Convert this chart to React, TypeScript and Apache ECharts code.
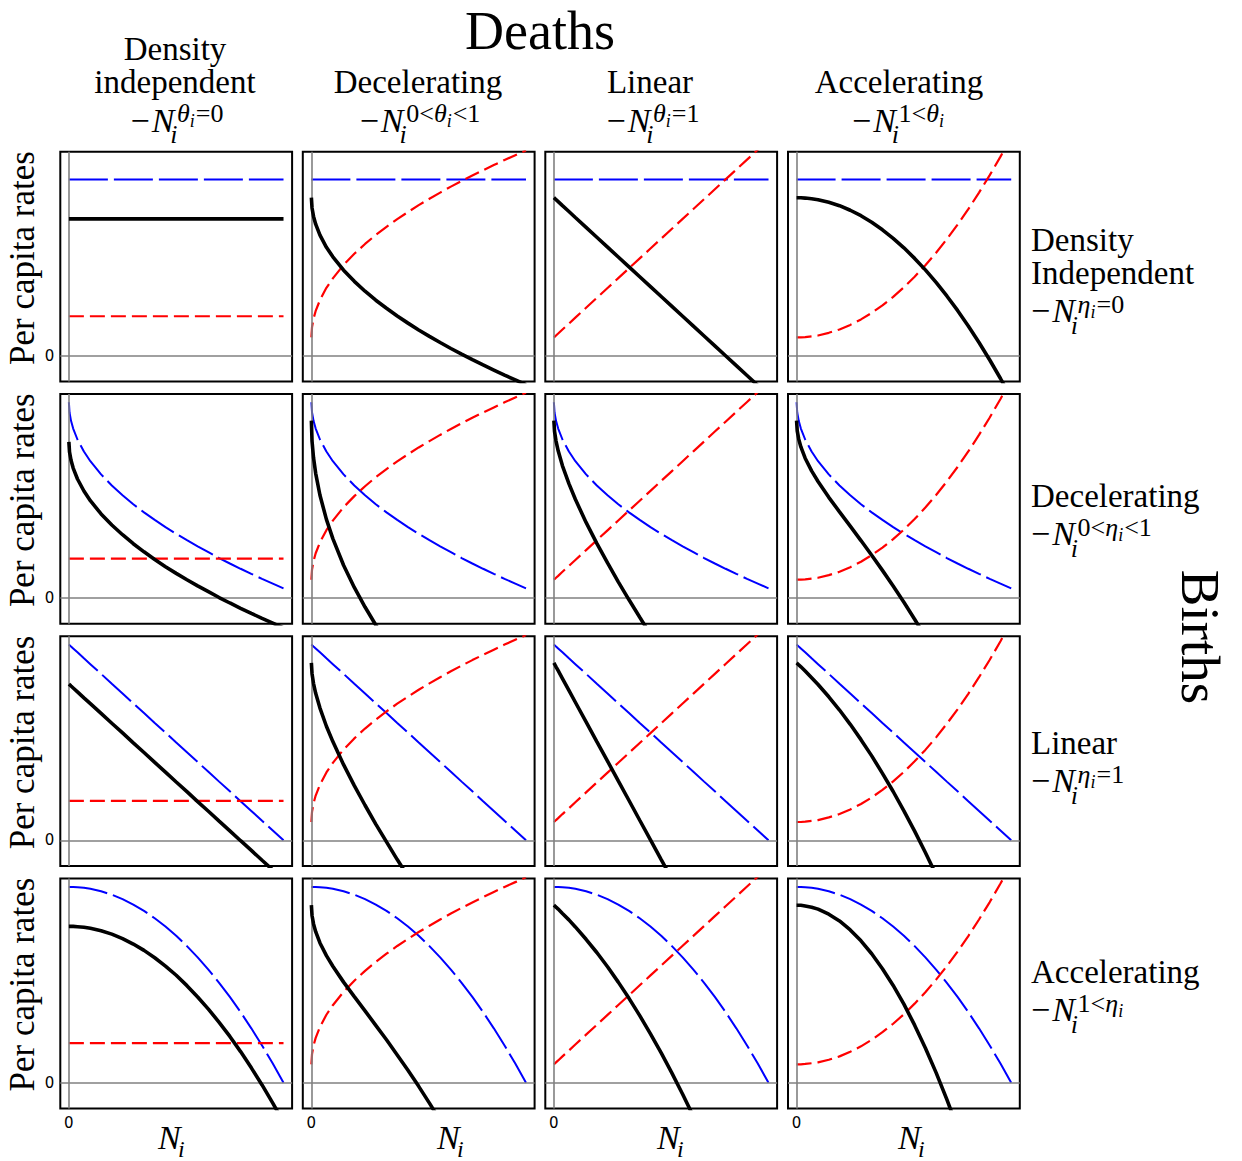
import React, { useEffect, useRef } from "react";
import * as echarts from "echarts";

// ---------- data ----------
const N_VALUES = [0, 0.003, 0.01, 0.02, 0.04, 0.07, 0.1, 0.15, 0.2, 0.25, 0.3, 0.35, 0.4, 0.45, 0.5, 0.55, 0.6, 0.65, 0.7, 0.75, 0.8, 0.85, 0.9, 0.95, 1.0];

// per-capita birth rates (blue), one array per row
const BIRTH_DENSITY_INDEPENDENT = [1, 1, 1, 1, 1, 1, 1, 1, 1, 1, 1, 1, 1, 1, 1, 1, 1, 1, 1, 1, 1, 1, 1, 1, 1];
const BIRTH_DECELERATING = [1.11, 1.052, 1.005, 0.961, 0.899, 0.831, 0.776, 0.701, 0.638, 0.583, 0.532, 0.486, 0.443, 0.402, 0.364, 0.328, 0.293, 0.26, 0.227, 0.196, 0.166, 0.137, 0.109, 0.082, 0.055];
const BIRTH_LINEAR = [1.11, 1.107, 1.099, 1.088, 1.066, 1.032, 0.999, 0.944, 0.888, 0.833, 0.777, 0.722, 0.666, 0.611, 0.555, 0.5, 0.444, 0.389, 0.333, 0.278, 0.222, 0.167, 0.111, 0.056, 0];
const BIRTH_ACCELERATING = [1.11, 1.11, 1.11, 1.11, 1.108, 1.105, 1.099, 1.085, 1.066, 1.041, 1.01, 0.974, 0.932, 0.885, 0.833, 0.774, 0.71, 0.641, 0.566, 0.486, 0.4, 0.308, 0.211, 0.108, 0];

// per-capita death rates (red), one array per column
const DEATH_DENSITY_INDEPENDENT = [0.224, 0.224, 0.224, 0.224, 0.224, 0.224, 0.224, 0.224, 0.224, 0.224, 0.224, 0.224, 0.224, 0.224, 0.224, 0.224, 0.224, 0.224, 0.224, 0.224, 0.224, 0.224, 0.224, 0.224, 0.224];
const DEATH_DECELERATING = [0.104, 0.162, 0.21, 0.254, 0.316, 0.385, 0.439, 0.515, 0.578, 0.634, 0.685, 0.731, 0.775, 0.815, 0.854, 0.89, 0.925, 0.959, 0.991, 1.022, 1.052, 1.081, 1.11, 1.137, 1.164];
const DEATH_LINEAR = [0.104, 0.107, 0.115, 0.126, 0.149, 0.182, 0.216, 0.272, 0.328, 0.384, 0.44, 0.496, 0.552, 0.608, 0.664, 0.72, 0.776, 0.832, 0.888, 0.944, 1.0, 1.056, 1.112, 1.168, 1.224];
const DEATH_ACCELERATING = [0.104, 0.104, 0.104, 0.104, 0.106, 0.11, 0.115, 0.13, 0.149, 0.175, 0.206, 0.243, 0.286, 0.334, 0.388, 0.448, 0.513, 0.584, 0.661, 0.743, 0.831, 0.925, 1.024, 1.129, 1.24];

const BIRTH_ROWS = [BIRTH_DENSITY_INDEPENDENT, BIRTH_DECELERATING, BIRTH_LINEAR, BIRTH_ACCELERATING];
const DEATH_COLS = [DEATH_DENSITY_INDEPENDENT, DEATH_DECELERATING, DEATH_LINEAR, DEATH_ACCELERATING];

const COLUMN_LABELS = [["Density", "independent"], ["Decelerating"], ["Linear"], ["Accelerating"]];
const ROW_LABELS = [["Density", "Independent"], ["Decelerating"], ["Linear"], ["Accelerating"]];
// exponent forms: [before symbol, after symbol]
const EXPONENT_FORMS = [["", "=0"], ["0<", "<1"], ["", "=1"], ["1<", ""]];
const TICK_LABEL = "0";
const X_LIMITS = [-0.04, 1.04];
const Y_LIMITS = [-0.146, 1.157];

// ---------- layout ----------
const COL_LEFT = [60.3, 302.8, 545.3, 788];
const ROW_TOP = [151.7, 394, 636.3, 878.6];
const GRID_W = 231.8;
const GRID_H = 229.8;
const SERIF = "'Liberation Serif', 'Times New Roman', serif";
const SANS = "'DejaVu Sans', sans-serif";
const CENTRAL = 0.3375; // middle-of-em offset above baseline for Liberation Serif

const HEADER_CX = [175, 418, 650, 899];
const MATH_CX = [177, 420, 653, 898];
const NI_LEFT = [158, 437, 657, 898];
const ROW_TEXT_BASE = [[251, 284], [507], [754], [983]];

type Piece = { t: string; s: number; it?: boolean; dy: number; dx?: number; noAdv?: boolean };

let measureCtx: CanvasRenderingContext2D | null = null;
function measure(t: string, s: number, it?: boolean) {
  if (!measureCtx) measureCtx = document.createElement("canvas").getContext("2d");
  measureCtx!.font = `${it ? "italic " : ""}${s}px ${SERIF}`;
  return measureCtx!.measureText(t).width;
}

function layout(pieces: Piece[], anchorX: number, baseY: number, align: "left" | "center") {
  let cur = 0;
  const placed: { p: Piece; x: number }[] = [];
  for (const p of pieces) {
    const x = cur + (p.dx || 0);
    placed.push({ p, x });
    if (!p.noAdv) cur = x + measure(p.t, p.s, p.it);
  }
  const start = align === "center" ? anchorX - cur / 2 : anchorX;
  return placed.map(({ p, x }) => ({
    type: "text",
    silent: true,
    x: start + x,
    y: baseY + p.dy - CENTRAL * p.s,
    style: {
      text: p.t,
      fontFamily: SERIF,
      fontSize: p.s,
      fontStyle: p.it ? "italic" : "normal",
      fill: "#000",
      align: "left",
      verticalAlign: "middle",
    },
  }));
}

function mathPieces(sym: string, pre: string, post: string, F: number): Piece[] {
  const S = Math.round(F * 0.76);
  const SS = Math.round(F * 0.54);
  const up = -0.28 * F;
  const ps: Piece[] = [
    { t: "\u2212", s: F, dy: 0 },
    { t: "N", s: F, it: true, dy: 0, dx: 2 },
    { t: "i", s: S, it: true, dy: 0.34 * F, dx: -0.12 * F, noAdv: true },
  ];
  let first = true;
  const supDx = 0.08 * F;
  if (pre) {
    ps.push({ t: pre, s: S, dy: up, dx: supDx });
    first = false;
  }
  ps.push({ t: sym, s: S, it: true, dy: up, dx: first ? supDx : 0 });
  ps.push({ t: "i", s: SS, it: true, dy: up + 0.14 * F });
  if (post) ps.push({ t: post, s: S, dy: up, dx: 1 });
  return ps;
}

function textEl(text: string, x: number, y: number, size: number, align: string, rotation = 0) {
  return {
    type: "text",
    silent: true,
    x,
    y,
    rotation,
    style: { text, fontFamily: SERIF, fontSize: size, fill: "#000", align, verticalAlign: "middle" },
  };
}

function buildOption() {
  const grid: any[] = [];
  const xAxis: any[] = [];
  const yAxis: any[] = [];
  const series: any[] = [];
  const zeroFmt = (v: number) => (Math.abs(v) < 1e-9 ? TICK_LABEL : "");

  for (let r = 0; r < 4; r++) {
    for (let c = 0; c < 4; c++) {
      const i = r * 4 + c;
      grid.push({
        left: COL_LEFT[c],
        top: ROW_TOP[r],
        width: GRID_W,
        height: GRID_H,
        show: true,
        borderColor: "#000",
        borderWidth: 2,
        backgroundColor: "transparent",
      });
      xAxis.push({
        type: "value",
        gridIndex: i,
        min: X_LIMITS[0],
        max: X_LIMITS[1],
        axisLine: { show: false },
        axisTick: { show: false },
        splitLine: { show: false },
        axisLabel: {
          show: r === 3,
          formatter: zeroFmt,
          margin: 7,
          fontFamily: SANS,
          fontSize: 15,
          color: "#000",
          showMinLabel: false,
          showMaxLabel: false,
        },
      });
      yAxis.push({
        type: "value",
        gridIndex: i,
        min: Y_LIMITS[0],
        max: Y_LIMITS[1],
        axisLine: { show: false },
        axisTick: { show: false },
        splitLine: { show: false },
        axisLabel: {
          show: c === 0,
          formatter: zeroFmt,
          margin: 6,
          fontFamily: SANS,
          fontSize: 15,
          color: "#000",
          showMinLabel: false,
          showMaxLabel: false,
        },
      });
      const births = BIRTH_ROWS[r];
      const deaths = DEATH_COLS[c];
      series.push({
        type: "line",
        xAxisIndex: i,
        yAxisIndex: i,
        data: [],
        silent: true,
        z: 1,
        markLine: {
          silent: true,
          symbol: ["none", "none"],
          label: { show: false },
          lineStyle: { color: "#808080", width: 1.6, type: "solid" },
          emphasis: { disabled: true },
          data: [{ yAxis: 0 }, { xAxis: 0 }],
        },
      });
      series.push({
        type: "line",
        name: "Births",
        xAxisIndex: i,
        yAxisIndex: i,
        data: N_VALUES.map((n, k) => [n, births[k]]),
        showSymbol: false,
        symbol: "none",
        silent: true,
        z: 3,
        lineStyle: { color: "#0000ff", width: 2, type: [39, 6] },
      });
      series.push({
        type: "line",
        name: "Deaths",
        xAxisIndex: i,
        yAxisIndex: i,
        data: N_VALUES.map((n, k) => [n, deaths[k]]),
        showSymbol: false,
        symbol: "none",
        silent: true,
        z: 4,
        lineStyle: { color: "#ff0000", width: 2.2, type: [15, 6] },
      });
      series.push({
        type: "line",
        name: "Net",
        xAxisIndex: i,
        yAxisIndex: i,
        data: N_VALUES.map((n, k) => [n, +(births[k] - deaths[k]).toFixed(3)]),
        showSymbol: false,
        symbol: "none",
        silent: true,
        z: 5,
        lineStyle: { color: "#000000", width: 3.6 },
      });
    }
  }

  const graphic: any[] = [];
  // big titles
  graphic.push(textEl("Deaths", 540, 49 - CENTRAL * 54, 54, "center"));
  graphic.push(textEl("Births", 1200, 637, 55, "center", -Math.PI / 2));
  // column headers
  for (let c = 0; c < 4; c++) {
    const lines = COLUMN_LABELS[c];
    const lastBase = 93.3;
    lines.forEach((ln, j) => {
      const base = lastBase - (lines.length - 1 - j) * 33;
      graphic.push(textEl(ln, HEADER_CX[c], base - CENTRAL * 33, 33, "center"));
    });
    const [pre, post] = EXPONENT_FORMS[c];
    graphic.push(...layout(mathPieces("\u03b8", pre, post, 34), MATH_CX[c], 131.7, "center"));
  }
  // row headers
  for (let r = 0; r < 4; r++) {
    const lines = ROW_LABELS[r];
    lines.forEach((ln, j) => {
      graphic.push(textEl(ln, 1031, ROW_TEXT_BASE[r][j] - CENTRAL * 33, 33, "left"));
    });
    const lastBase = ROW_TEXT_BASE[r][lines.length - 1];
    const [pre, post] = EXPONENT_FORMS[r];
    graphic.push(...layout(mathPieces("\u03b7", pre, post, 34), 1031, lastBase + 38.4, "left"));
    // y label
    graphic.push(textEl("Per capita rates", 22, 258 + 242.2 * r, 35, "center", Math.PI / 2));
  }
  // x labels N_i
  for (let c = 0; c < 4; c++) {
    const F = 34;
    const pieces: Piece[] = [
      { t: "N", s: F, it: true, dy: 0 },
      { t: "i", s: Math.round(F * 0.7), it: true, dy: 0.25 * F, dx: -0.08 * F },
    ];
    graphic.push(...layout(pieces, NI_LEFT[c], 1149, "left"));
  }

  return {
    animation: false,
    backgroundColor: "#ffffff",
    grid,
    xAxis,
    yAxis,
    series,
    graphic,
  };
}

export default function App() {
  const ref = useRef<HTMLDivElement>(null);
  useEffect(() => {
    const el = ref.current!;
    const chart = echarts.init(el, null, { renderer: "svg" });
    chart.setOption(buildOption() as any);
    return () => chart.dispose();
  }, []);
  return (
    <div
      ref={ref}
      style={{ position: "absolute", left: 0, top: 0, width: 1242, height: 1161, background: "#fff" }}
    />
  );
}
